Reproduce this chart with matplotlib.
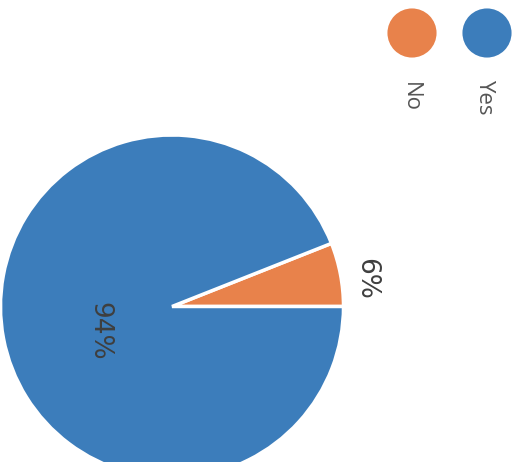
import matplotlib
matplotlib.use("Agg")
import matplotlib.pyplot as plt

# Survey answers
labels = ["No", "Yes"]
shares = [6, 94]
colors = ["#E8824B", "#3C7DBB"]

W, H = 516, 462
fig = plt.figure(figsize=(W / 100, H / 100), dpi=100)
ax = fig.add_axes([0, 0, 1, 1])

cx, cy, r = 172, 155.5, 171.5
wedges, _ = ax.pie(shares, colors=colors, startangle=0, counterclock=True,
                   center=(cx, cy), radius=r, frame=True,
                   wedgeprops=dict(edgecolor="white", linewidth=2.5))
ax.set_xlim(0, W)
ax.set_ylim(0, H)
ax.set_aspect("equal")
ax.axis("off")

txt = "#3f3f3f"

# percentage labels, turned on their side
ax.text(cx + 194, cy + 28, f"{shares[0]}%", rotation=-90, ha="center", va="center",
        fontsize=19, color=txt, family="DejaVu Sans")
ax.text(cx - 73, cy - 25, f"{shares[1]}%", rotation=-90, ha="center", va="center",
        fontsize=19, color=txt, family="DejaVu Sans")

# legend: coloured dots with sideways names beneath
for i, (lab, col) in enumerate(zip(labels, colors)):
    x = 412 + i * 75
    ax.scatter([x], [H - 33], s=1250, color=col, edgecolors="none")
    ax.text(x - 2, H - 97, lab, rotation=-90, ha="center", va="center",
            fontsize=16, color="#555555", family=["Open Sans", "DejaVu Sans"])

fig.savefig("out.png", dpi=100)
